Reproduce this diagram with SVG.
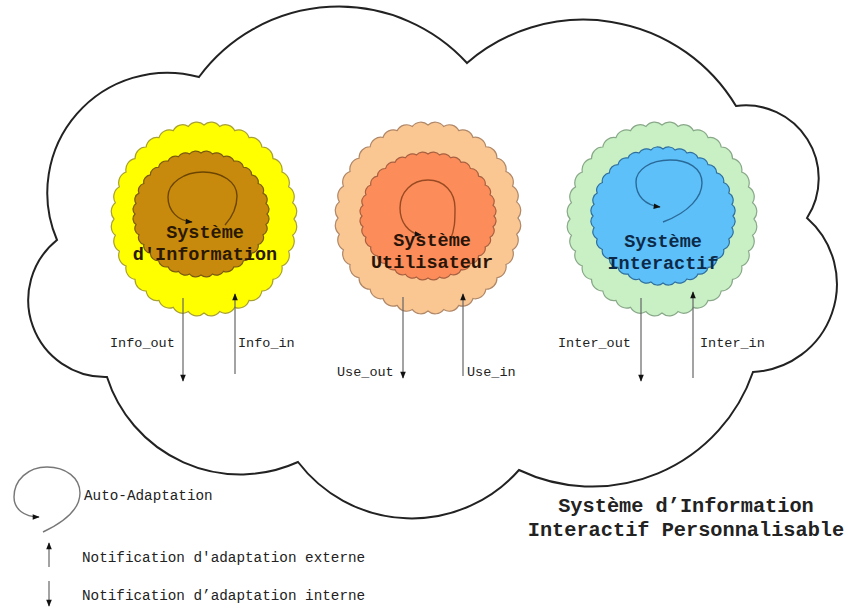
<svg xmlns="http://www.w3.org/2000/svg" xmlns:xlink="http://www.w3.org/1999/xlink" width="848" height="607" viewBox="0 0 848 607">
<style>
.mono{font-family:"Liberation Mono","DejaVu Sans Mono",monospace;}
.nlabel{font-size:18.5px;font-weight:bold;text-anchor:middle;}
.clabel{font-size:13.5px;fill:#222;}
.legend{font-size:14.3px;fill:#222;}
.title{font-size:20.3px;font-weight:bold;fill:#222;text-anchor:middle;}
.wire{stroke:#666;stroke-width:1.2;fill:none;marker-end:url(#ah);}
.loop{fill:none;stroke-width:1.4;marker-end:url(#ahs);}
</style>
<defs>
<marker id="ah" viewBox="0 0 10 10" refX="9" refY="5" markerWidth="8" markerHeight="7" orient="auto" markerUnits="userSpaceOnUse">
<path d="M0,1 L10,5 L0,9 z" fill="#111"/>
</marker>
<marker id="ahs" viewBox="0 0 10 10" refX="9" refY="5" markerWidth="8" markerHeight="7" orient="auto" markerUnits="userSpaceOnUse">
<path d="M0,1 L10,5 L0,9 z" fill="#111"/>
</marker>
<path id="scallop" vector-effect="non-scaling-stroke" d="M100,0 A12,12 0 0 1 98.48,17.36 A12,12 0 0 1 93.97,34.2 A12,12 0 0 1 86.6,50 A12,12 0 0 1 76.6,64.28 A12,12 0 0 1 64.28,76.6 A12,12 0 0 1 50,86.6 A12,12 0 0 1 34.2,93.97 A12,12 0 0 1 17.36,98.48 A12,12 0 0 1 0,100 A12,12 0 0 1 -17.36,98.48 A12,12 0 0 1 -34.2,93.97 A12,12 0 0 1 -50,86.6 A12,12 0 0 1 -64.28,76.6 A12,12 0 0 1 -76.6,64.28 A12,12 0 0 1 -86.6,50 A12,12 0 0 1 -93.97,34.2 A12,12 0 0 1 -98.48,17.36 A12,12 0 0 1 -100,0 A12,12 0 0 1 -98.48,-17.36 A12,12 0 0 1 -93.97,-34.2 A12,12 0 0 1 -86.6,-50 A12,12 0 0 1 -76.6,-64.28 A12,12 0 0 1 -64.28,-76.6 A12,12 0 0 1 -50,-86.6 A12,12 0 0 1 -34.2,-93.97 A12,12 0 0 1 -17.36,-98.48 A12,12 0 0 1 0,-100 A12,12 0 0 1 17.36,-98.48 A12,12 0 0 1 34.2,-93.97 A12,12 0 0 1 50,-86.6 A12,12 0 0 1 64.28,-76.6 A12,12 0 0 1 76.6,-64.28 A12,12 0 0 1 86.6,-50 A12,12 0 0 1 93.97,-34.2 A12,12 0 0 1 98.48,-17.36 A12,12 0 0 1 100,0 Z"/>
</defs>
<rect x="0" y="0" width="848" height="607" fill="#ffffff"/>

<g id="cloud">
<path d="M57,240 A120,120 0 0 1 199,77 A174,174 0 0 1 467,63 A178,178 0 0 1 736,106 A73,73 0 0 1 807,218 A88,88 0 0 1 753,372 A170,170 0 0 1 519,470 A143,143 0 0 1 298,462 A140,140 0 0 1 107,377 A77,77 0 0 1 57,240 Z" fill="none" stroke="#222" stroke-width="2"/>
</g>

<g id="node-information">
<use xlink:href="#scallop" href="#scallop" transform="translate(204,219) scale(0.9,0.94)" fill="#ffff00" stroke="#a8a030" stroke-width="1.2"/>
<use xlink:href="#scallop" href="#scallop" transform="translate(201,214) scale(0.66,0.61)" fill="#c88a0c" stroke="#7a5a10" stroke-width="1.2"/>
<path class="loop" stroke="#6b4500" d="M225,225 C233,216 237,206 237,196 C237,182 222,172 203,172 C184,172 168,183 168,197 C168,211 178,221 192,222"/>
<text class="mono nlabel" fill="#2a1800" x="205" y="238">Système</text>
<text class="mono nlabel" fill="#2a1800" x="205" y="260">d'Information</text>
</g>

<g id="node-utilisateur">
<use xlink:href="#scallop" href="#scallop" transform="translate(428,218) scale(0.9,0.93)" fill="#fac692" stroke="#b08868" stroke-width="1.2"/>
<use xlink:href="#scallop" href="#scallop" transform="translate(428,216) scale(0.66,0.62)" fill="#fc8d5a" stroke="#a86040" stroke-width="1.2"/>
<path class="loop" stroke="#9a4a22" d="M450,240 C455,230 455,220 455,208 C455,192 444,180 428,180 C412,180 400,192 400,208 C400,222 408,233 421,235"/>
<text class="mono nlabel" fill="#2a1408" x="432" y="246">Système</text>
<text class="mono nlabel" fill="#2a1408" x="432" y="268">Utilisateur</text>
</g>

<g id="node-interactif">
<use xlink:href="#scallop" href="#scallop" transform="translate(662,219) scale(0.92,0.94)" fill="#c8f0c4" stroke="#88a888" stroke-width="1.2"/>
<use xlink:href="#scallop" href="#scallop" transform="translate(663,216) scale(0.7,0.67)" fill="#5ec0f8" stroke="#2f6f9f" stroke-width="1.2"/>
<path class="loop" stroke="#2a6a9a" d="M663,222 C690,212 702,196 702,183 C702,168 688,160 670,160 C650,160 636,170 636,182 C636,196 645,205 660,207"/>
<text class="mono nlabel" fill="#0c2a48" x="663" y="247">Système</text>
<text class="mono nlabel" fill="#0c2a48" x="663" y="269">Interactif</text>
</g>

<g id="connectors">
<line class="wire" x1="183" y1="298" x2="183" y2="381"/>
<line class="wire" x1="235" y1="374" x2="235" y2="294"/>
<line class="wire" x1="403" y1="297" x2="403" y2="378"/>
<line class="wire" x1="463" y1="376" x2="463" y2="294"/>
<line class="wire" x1="641" y1="298" x2="641" y2="381"/>
<line class="wire" x1="693" y1="378" x2="693" y2="292"/>
<text class="mono clabel" x="110" y="347">Info_out</text>
<text class="mono clabel" x="238" y="347">Info_in</text>
<text class="mono clabel" x="337" y="376">Use_out</text>
<text class="mono clabel" x="467" y="376">Use_in</text>
<text class="mono clabel" x="558" y="347">Inter_out</text>
<text class="mono clabel" x="700" y="347">Inter_in</text>
</g>

<g id="legend">
<path class="loop" stroke="#777" d="M43,532 C60,524 80,512 80,493 C80,478 66,467 47,467 C28,467 14,480 14,497 C14,509 24,517 39,517"/>
<text class="mono legend" x="84" y="500">Auto-Adaptation</text>
<line class="wire" x1="49" y1="567" x2="49" y2="543"/>
<text class="mono legend" x="82" y="562">Notification d'adaptation externe</text>
<line class="wire" x1="49" y1="581" x2="49" y2="606"/>
<text class="mono legend" x="82" y="600">Notification d’adaptation interne</text>
</g>

<g id="title">
<text class="mono title" x="686" y="512">Système d’Information</text>
<text class="mono title" x="686" y="536">Interactif Personnalisable</text>
</g>
</svg>
